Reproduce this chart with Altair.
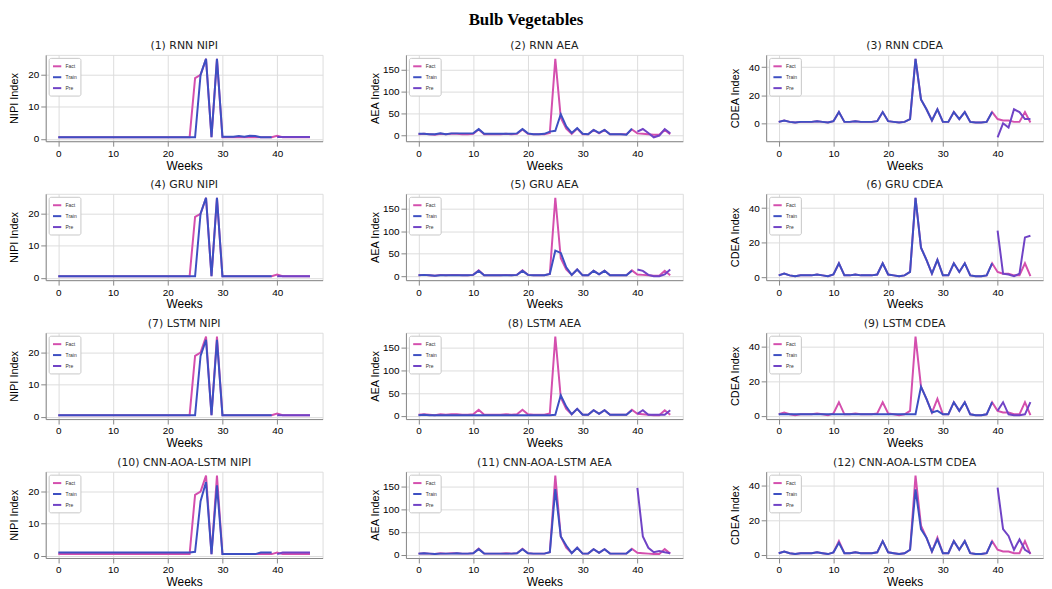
import altair as alt
import pandas as pd

weeks = list(range(47))

# ---- Fact series (same in every row) ----
fact_nipi = [0.5, 0.5, 0.5, 0.5, 0.5, 0.5, 0.5, 0.5, 0.5, 0.5, 0.5, 0.5, 0.5, 0.5, 0.5, 0.5,
             0.5, 0.5, 0.5, 0.5, 0.5, 0.5, 0.5, 0.5, 0.5, 19, 20, 25, 0.5, 25, 0.5, 0.5,
             0.5, 0.5, 0.5, 0.5, 0.5, 0.5, 0.5, 0.5, 1.0, 0.5, 0.5, 0.5, 0.5, 0.5, 0.5]
fact_aea = [2, 3, 2, 1, 3, 2, 3, 3, 2, 2, 3, 13, 2, 2, 2, 2,
            3, 2, 3, 13, 3, 2, 2, 2, 5, 175, 40, 15, 3, 15, 2, 2,
            12, 4, 12, 2, 2, 2, 2, 13, 4, 3, 2, 1, 1, 12, 2]
fact_cdea = [1, 2, 1, 0.5, 1, 1, 1, 1.5, 1, 0.5, 1.5, 8, 1, 1, 1.5, 1,
             1, 1, 1.5, 8, 1.5, 1, 0.5, 1, 3, 46, 17, 10, 2, 10, 1, 1,
             8, 3, 8, 1, 0.5, 0.5, 1, 8, 3, 2, 2, 1, 1, 8, 0.5]

# ---- Train (weeks 0-39) and Pre (weeks 40-46) per model ----
rnn_nipi_train = [0.5, 0.5, 0.5, 0.5, 0.5, 0.5, 0.5, 0.5, 0.5, 0.5, 0.5, 0.5, 0.5, 0.5, 0.5, 0.5,
                  0.5, 0.5, 0.5, 0.5, 0.5, 0.5, 0.5, 0.5, 0.5, 0.5, 20, 25, 0.5, 25, 0.7, 0.7,
                  0.7, 0.9, 0.7, 1.0, 0.9, 0.5, 0.5, 0.5]
rnn_nipi_pre = [0.6, 0.6, 0.6, 0.6, 0.6, 0.6, 0.6]
rnn_aea_train = [3, 3, 2, 2, 4, 2, 4, 4, 4, 4, 4, 14, 3, 3, 3, 3,
                 3, 3, 4, 14, 4, 2, 2, 3, 8, 10, 48, 20, 5, 16, 3, 2,
                 12, 5, 12, 2, 2, 2, 1, 15]
rnn_aea_pre = [8, 14, 5, -5, -1, 14, 4]
rnn_cdea_train = [1, 2, 1, 0.5, 1, 1, 1, 1.5, 1, 0.5, 1.5, 8, 1, 1, 1.5, 1,
                  1, 1, 1.5, 8, 1.5, 1, 0.5, 1, 3, 46, 17, 10, 2, 10, 1, 1,
                  8, 3, 8, 1, 0.5, 0.5, 1, 8]
rnn_cdea_pre = [-10, 0, -3, 10, 8, 3, 3]

gru_nipi_train = [0.5, 0.5, 0.5, 0.5, 0.5, 0.5, 0.5, 0.5, 0.5, 0.5, 0.5, 0.5, 0.5, 0.5, 0.5, 0.5,
                  0.5, 0.5, 0.5, 0.5, 0.5, 0.5, 0.5, 0.5, 0.5, 0.5, 20, 25, 0.5, 25, 0.5, 0.5,
                  0.5, 0.5, 0.5, 0.5, 0.5, 0.5, 0.5, 0.5]
gru_nipi_pre = [0.5, 0.5, 0.5, 0.5, 0.5, 0.5, 0.5]
gru_aea_train = [2, 3, 2, 1, 2, 2, 2, 2, 2, 2, 3, 12, 2, 2, 2, 2,
                 2, 2, 3, 12, 3, 2, 2, 2, 5, 57, 52, 20, 3, 15, 2, 2,
                 12, 4, 12, 2, 2, 2, 2, 12]
gru_aea_pre = [15, 12, 3, 0, 0, 4, 15]
gru_cdea_train = [1, 2, 1, 0.5, 1, 1, 1, 1.5, 1, 0.5, 1.5, 8, 1, 1, 1.5, 1,
                  1, 1, 1.5, 8, 1.5, 1, 0.5, 1, 3, 46, 17, 10, 2, 10, 1, 1,
                  8, 3, 8, 1, 0.5, 0.5, 1, 8]
gru_cdea_pre = [27, 2, 1.5, 0.5, 2, 23, 24]

lstm_nipi_train = [0.5, 0.5, 0.5, 0.5, 0.5, 0.5, 0.5, 0.5, 0.5, 0.5, 0.5, 0.5, 0.5, 0.5, 0.5, 0.5,
                   0.5, 0.5, 0.5, 0.5, 0.5, 0.5, 0.5, 0.5, 0.5, 0.5, 19, 24, 0.5, 24, 0.5, 0.5,
                   0.5, 0.5, 0.5, 0.5, 0.5, 0.5, 0.5, 0.5]
lstm_nipi_pre = [0.5, 0.5, 0.5, 0.5, 0.5, 0.5, 0.5]
lstm_aea_train = [1, 2, 1, 1, 1, 1, 1, 1, 1, 1, 1, 1, 1, 1, 1, 1,
                  1, 1, 1, 1, 1, 1, 1, 1, 1, 2, 45, 20, 3, 15, 2, 2,
                  12, 4, 12, 2, 2, 2, 2, 12]
lstm_aea_pre = [4, 12, 2, 2, 2, 2, 12]
lstm_cdea_train = [1, 1, 1, 1, 1, 1, 1, 1, 1, 1, 1, 1, 1, 1, 1, 1,
                   1, 1, 1, 1, 1, 1, 1, 1, 1, 1, 17, 10, 2, 3, 1, 1,
                   8, 3, 8, 1, 0.5, 0.5, 1, 8]
lstm_cdea_pre = [3, 8, 1, 0.5, 0.5, 1, 8]

cnn_nipi_train = [1, 1, 1, 1, 1, 1, 1, 1, 1, 1, 1, 1, 1, 1, 1, 1,
                  1, 1, 1, 1, 1, 1, 1, 1, 1, 1.2, 17, 23, 0.5, 22, 0.5, 0.5,
                  0.5, 0.5, 0.5, 0.5, 0.5, 1, 1, 1]
cnn_nipi_pre = [0.5, 1, 1, 1, 1, 1, 1]
cnn_aea_train = [2, 3, 2, 1, 2, 2, 2, 3, 2, 2, 3, 12, 2, 2, 2, 2,
                 2, 2, 3, 12, 3, 2, 2, 2, 5, 145, 40, 20, 3, 15, 2, 2,
                 12, 4, 12, 2, 2, 2, 2, 12]
cnn_aea_pre = [148, 40, 15, 5, 8, 5, 3]
cnn_cdea_train = [1, 2, 1, 0.5, 1, 1, 1, 1.5, 1, 0.5, 1.5, 7, 1, 1, 1.5, 1,
                  1, 1, 1.5, 8, 1.5, 1, 0.5, 1, 3, 38, 15, 10, 2, 9, 1, 1,
                  8, 3, 8, 1, 0.5, 0.5, 1, 8]
cnn_cdea_pre = [39, 15, 11, 3, 9, 3, 1]

series_names = ["Fact", "Train", "Pre"]
series_colors = ["#d44fae", "#3d4fc2", "#7043c6"]

panel_titles = ["(1) RNN  NIPI", "(2) RNN  AEA", "(3) RNN  CDEA",
                "(4) GRU  NIPI", "(5) GRU AEA", "(6) GRU  CDEA",
                "(7) LSTM  NIPI", "(8) LSTM  AEA", "(9) LSTM  CDEA",
                "(10) CNN-AOA-LSTM  NIPI", "(11) CNN-AOA-LSTM  AEA", "(12) CNN-AOA-LSTM  CDEA"]
y_titles = ["NIPI Index", "AEA Index", "CDEA Index"]
y_ticks = [[0, 10, 20], [0, 50, 100, 150], [0, 20, 40]]
x_ticks = [0, 10, 20, 30, 40]

facts = [fact_nipi, fact_aea, fact_cdea]
trains = [[rnn_nipi_train, rnn_aea_train, rnn_cdea_train],
          [gru_nipi_train, gru_aea_train, gru_cdea_train],
          [lstm_nipi_train, lstm_aea_train, lstm_cdea_train],
          [cnn_nipi_train, cnn_aea_train, cnn_cdea_train]]
pres = [[rnn_nipi_pre, rnn_aea_pre, rnn_cdea_pre],
        [gru_nipi_pre, gru_aea_pre, gru_cdea_pre],
        [lstm_nipi_pre, lstm_aea_pre, lstm_cdea_pre],
        [cnn_nipi_pre, cnn_aea_pre, cnn_cdea_pre]]

PW, PH = 279, 87


def panel(title, ytitle, ticks, fact, train, pre):
    rows = []
    for w, v in zip(weeks, fact):
        rows.append({"week": w, "value": v, "series": "Fact"})
    for w, v in zip(weeks[:40], train):
        rows.append({"week": w, "value": v, "series": "Train"})
    for w, v in zip(weeks[40:], pre):
        rows.append({"week": w, "value": v, "series": "Pre"})
    df = pd.DataFrame(rows)
    allv = list(fact) + list(train) + list(pre)
    lo, hi = min(allv), max(allv)
    m = 0.05 * (hi - lo)
    return alt.Chart(df).mark_line(strokeWidth=2, clip=True).encode(
        x=alt.X("week:Q", title="Weeks",
                scale=alt.Scale(domain=[-2.3, 48.3], nice=False, zero=False),
                axis=alt.Axis(values=x_ticks, format="d", titleFontWeight="normal",
                              titleFontSize=12, titlePadding=2)),
        y=alt.Y("value:Q", title=ytitle,
                scale=alt.Scale(domain=[lo - m, hi + m], nice=False, zero=False),
                axis=alt.Axis(values=ticks, format="d", minExtent=22, maxExtent=22,
                              titleFontWeight="normal", titleFontSize=11, titlePadding=4)),
        color=alt.Color("series:N", title=None,
                        scale=alt.Scale(domain=series_names, range=series_colors),
                        legend=alt.Legend(orient="top-left", offset=3, fillColor="white",
                                          strokeColor="#c8c8c8", padding=3, cornerRadius=2,
                                          labelFontSize=5, labelColor="#333",
                                          symbolType="stroke", symbolStrokeWidth=2,
                                          symbolSize=70, rowPadding=1, labelOffset=3)),
        order="week:Q",
    ).properties(width=PW, height=PH,
                 title=alt.TitleParams(title, fontSize=11, fontWeight="normal",
                                       font="DejaVu Sans", color="#222", offset=4))


rows_charts = []
for r in range(4):
    cells = []
    for c in range(3):
        cells.append(panel(panel_titles[r * 3 + c], y_titles[c], y_ticks[c],
                           facts[c], trains[r][c], pres[r][c]))
    row = alt.hconcat(*cells, spacing=45).resolve_scale(
        color="independent", x="independent", y="independent").resolve_legend(color="independent")
    rows_charts.append(row)

chart = alt.vconcat(*rows_charts, spacing=6).resolve_scale(
    color="independent", x="independent", y="independent").resolve_legend(color="independent").properties(
    title=alt.TitleParams("Bulb Vegetables", font="Liberation Serif", fontSize=17,
                          fontWeight="bold", anchor="middle", color="#000", offset=11),
    padding=0,
).configure_view(stroke="#555", strokeWidth=1).configure_axis(
    grid=True, gridColor="#d4d4d4", gridWidth=0.8, domain=False,
    labelFont="DejaVu Sans", labelFontSize=10, labelColor="#333",
    titleFont="DejaVu Sans", titleFontSize=11, titleFontWeight="normal", titleColor="#222",
    tickColor="#444", tickSize=3.5, labelPadding=2, titlePadding=3,
).configure(background="white")

chart.save("out.html", embed_options={"renderer": "svg", "actions": False})
